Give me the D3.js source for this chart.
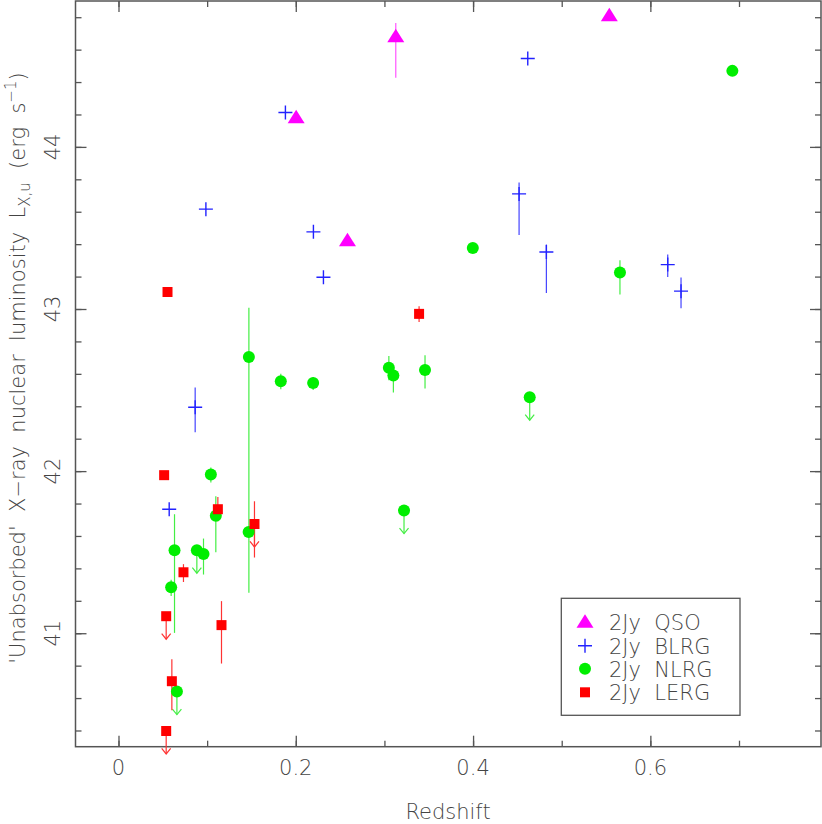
<!DOCTYPE html>
<html><head><meta charset="utf-8">
<script src="https://cdn.jsdelivr.net/npm/d3@7"></script>
<style>
html,body{margin:0;padding:0;background:#fff;}
svg text{font-family:"DejaVu Sans","Liberation Sans",sans-serif;font-weight:200;fill:#444;white-space:pre;}
</style></head>
<body>
<svg id="c" width="822" height="824"></svg>
<script>
// Data: [redshift, log Lx, errLow, errHigh, upperLimit]
const qso = [
  [0.2004, 44.183, null, null, false],
  [0.3128, 44.683, 44.426, 44.765, false],
  [0.2583, 43.424, null, null, false],
  [0.5537, 44.812, null, null, false]
];
const blrg = [
  [0.1883, 44.212, null, null, false],
  [0.0986, 43.616, null, null, false],
  [0.2199, 43.476, null, null, false],
  [0.2312, 43.196, null, null, false],
  [0.0865, 42.394, 42.240, 42.516, false],
  [0.0572, 41.765, null, null, false],
  [0.4617, 44.545, null, null, false],
  [0.4519, 43.710, 43.457, 43.780, false],
  [0.4827, 43.352, 43.099, 43.398, false],
  [0.6196, 43.274, 43.198, 43.336, false],
  [0.6346, 43.110, 43.005, 43.194, false]
];
const nlrg = [
  [0.6925, 44.469, null, null, false],
  [0.3997, 43.377, null, null, false],
  [0.5657, 43.225, 43.089, 43.300, false],
  [0.3458, 42.624, 42.510, 42.715, false],
  [0.4639, 42.456, null, null, true],
  [0.1471, 42.704, 41.250, 43.007, false],
  [0.1831, 42.555, 42.505, 42.600, false],
  [0.2196, 42.544, 42.500, 42.580, false],
  [0.3050, 42.637, 42.560, 42.710, false],
  [0.3101, 42.590, 42.485, 42.630, false],
  [0.3221, 41.757, null, null, true],
  [0.1042, 41.979, 41.930, 42.022, false],
  [0.1098, 41.724, 41.500, 41.845, false],
  [0.1468, 41.625, null, null, false],
  [0.0632, 41.512, 41.002, 41.734, false],
  [0.0884, 41.512, null, null, true],
  [0.0959, 41.489, 41.362, 41.584, false],
  [0.0594, 41.283, 41.230, 41.330, false],
  [0.0659, 40.640, null, null, true]
];
const lerg = [
  [0.0553, 43.105, null, null, false],
  [0.3391, 42.970, 42.920, 43.017, false],
  [0.0515, 41.975, null, null, false],
  [0.1121, 41.765, 41.690, 41.840, false],
  [0.1534, 41.674, 41.467, 41.814, true],
  [0.0733, 41.376, 41.316, 41.426, false],
  [0.0538, 41.105, null, null, true],
  [0.1162, 41.050, 40.813, 41.198, false],
  [0.0602, 40.704, 40.525, 40.840, false],
  [0.0538, 40.397, null, null, true]
];
const xMajorTicks = [0, 0.2, 0.4, 0.6];
const xTickLabels = ["0", "0.2", "0.4", "0.6"];
const yMajorTicks = [41, 42, 43, 44];
const yTickLabels = ["41", "42", "43", "44"];
const legendLabels = ["2Jy  QSO", "2Jy  BLRG", "2Jy  NLRG", "2Jy  LERG"];

const svg = d3.select("#c");
const L = 75.5, R = 821, T = 1, B = 746.7;
const x = d3.scaleLinear().domain([-0.0485, 0.7925]).range([L, R]);
const y = d3.scaleLinear().domain([40.30, 44.90]).range([B, T]);
const axisCol = "#555";

// frame
svg.append("rect").attr("x", L).attr("y", T).attr("width", R - L).attr("height", B - T)
  .attr("fill", "none").attr("stroke", axisCol).attr("stroke-width", 1.5);

// axes with inward ticks
const xMinor = d3.range(0, 0.75, 0.1).map(v => +v.toFixed(2));
const yMinor = d3.range(40.4, 44.85, 0.2).map(v => +v.toFixed(2));
const tickStyle = g => g.selectAll("line").attr("stroke", axisCol).attr("stroke-width", 1.3);
function ax(axisFn, scale, ticks, size, tx, ty) {
  const g = svg.append("g").attr("transform", `translate(${tx},${ty})`)
    .call(axisFn(scale).tickValues(ticks).tickSize(size).tickFormat(""));
  g.select(".domain").remove();
  g.call(tickStyle);
  return g;
}
ax(d3.axisTop, x, xMinor, 6, 0, B);
ax(d3.axisTop, x, xMajorTicks, 11, 0, B);
ax(d3.axisBottom, x, xMinor, 6, 0, T);
ax(d3.axisBottom, x, xMajorTicks, 11, 0, T);
ax(d3.axisRight, y, yMinor, 6, L, 0);
ax(d3.axisRight, y, yMajorTicks, 11, L, 0);
ax(d3.axisLeft, y, yMinor, 6, R, 0);
ax(d3.axisLeft, y, yMajorTicks, 11, R, 0);

// tick labels
svg.selectAll(".xl").data(xMajorTicks).enter().append("text")
  .attr("x", d => x(d)).attr("y", 775).attr("text-anchor", "middle")
  .attr("font-size", 21).text((d, i) => xTickLabels[i]);
svg.selectAll(".yl").data(yMajorTicks).enter().append("text")
  .attr("transform", d => `translate(60,${y(d)}) rotate(-90)`)
  .attr("text-anchor", "middle").attr("font-size", 21).text((d, i) => yTickLabels[i]);

// axis titles
svg.append("text").attr("x", 448).attr("y", 819).attr("text-anchor", "middle")
  .attr("font-size", 21).text("Redshift");
const yt = svg.append("text").attr("transform", "translate(25,368) rotate(-90)")
  .attr("text-anchor", "middle").attr("font-size", 21);
yt.append("tspan").text("'Unabsorbed'  X\u2212ray  nuclear  luminosity  L");
yt.append("tspan").attr("dy", 5).attr("font-size", 15).text("X,u");
yt.append("tspan").attr("dy", -5).text("  (erg  s");
yt.append("tspan").attr("dy", -9).attr("font-size", 15).text("\u22121");
yt.append("tspan").attr("dy", 9).text(")");

// marks
const plot = svg.append("g");
function drawErr(data, col) {
  const g = plot.append("g");
  g.selectAll("line.e").data(data.filter(d => d[2] !== null)).enter().append("line")
    .attr("x1", d => x(d[0])).attr("x2", d => x(d[0]))
    .attr("y1", d => y(d[2])).attr("y2", d => y(d[3]))
    .attr("stroke", col).attr("stroke-width", 1.2);
  const ul = data.filter(d => d[4]);
  g.selectAll("line.u").data(ul).enter().append("line")
    .attr("x1", d => x(d[0])).attr("x2", d => x(d[0]))
    .attr("y1", d => y(d[1])).attr("y2", d => y(d[1]) + 23)
    .attr("stroke", col).attr("stroke-width", 1.2);
  g.selectAll("path.u").data(ul).enter().append("path")
    .attr("d", d => { const px = x(d[0]), py = y(d[1]) + 23; return `M${px-4.5},${py-5.5}L${px},${py}L${px+4.5},${py-5.5}`; })
    .attr("fill", "none").attr("stroke", col).attr("stroke-width", 1.2);
}
const cMag = "#ff00ff", cBlue = "#2222ff", cGreen = "#00ee00", cRed = "#ff0000";
drawErr(qso, "#ff55ff");
drawErr(blrg, "#4444ff");
drawErr(nlrg, "#44ee44");
drawErr(lerg, "#ff3333");

function triPath(cx, cy) { return `M${cx},${cy-7.5}L${cx+8.5},${cy+6}L${cx-8.5},${cy+6}Z`; }
function plusPath(cx, cy) { return `M${cx-7},${cy}H${cx+7}M${cx},${cy-7}V${cy+7}`; }
function sqPath(cx, cy) { return `M${cx-5},${cy-5}h10v10h-10Z`; }

plot.selectAll("path.q").data(qso).enter().append("path")
  .attr("d", d => triPath(x(d[0]), y(d[1]))).attr("fill", cMag);
plot.selectAll("path.b").data(blrg).enter().append("path")
  .attr("d", d => plusPath(x(d[0]), y(d[1]))).attr("stroke", cBlue).attr("stroke-width", 1.4).attr("fill", "none");
plot.selectAll("circle.n").data(nlrg).enter().append("circle")
  .attr("cx", d => x(d[0])).attr("cy", d => y(d[1])).attr("r", 6).attr("fill", cGreen);
plot.selectAll("path.l").data(lerg).enter().append("path")
  .attr("d", d => sqPath(x(d[0]), y(d[1]))).attr("fill", cRed);

// legend
const lg = svg.append("g");
lg.append("rect").attr("x", 561.3).attr("y", 598.3).attr("width", 178.7).attr("height", 117)
  .attr("fill", "#fff").attr("stroke", axisCol).attr("stroke-width", 1.3);
const rows = [621.7, 645.7, 668.7, 692.3];
lg.append("path").attr("d", triPath(585, rows[0])).attr("fill", cMag);
lg.append("path").attr("d", plusPath(585, rows[1])).attr("stroke", cBlue).attr("stroke-width", 1.4);
lg.append("circle").attr("cx", 585).attr("cy", rows[2]).attr("r", 6).attr("fill", cGreen);
lg.append("path").attr("d", sqPath(585, rows[3])).attr("fill", cRed);
lg.selectAll("text.lg").data(legendLabels).enter().append("text")
  .attr("x", 609).attr("y", (d, i) => rows[i] + 8).attr("font-size", 21).text(d => d);
</script>
</body></html>
